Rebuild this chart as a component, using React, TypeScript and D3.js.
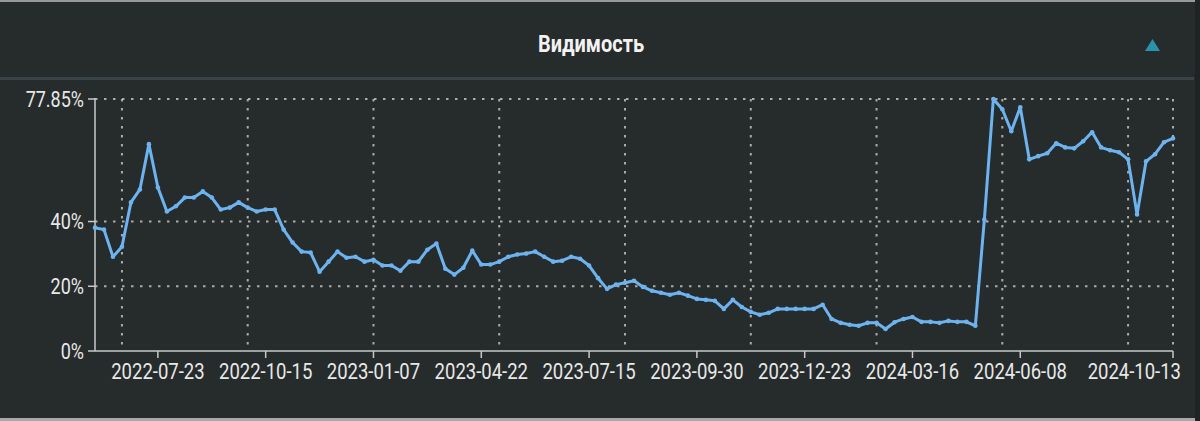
import React from "react";
import * as d3 from "d3";

const title = "Видимость";

const dates: string[] = [
  "2022-06-04","2022-06-11","2022-06-18","2022-06-25","2022-07-02","2022-07-09","2022-07-16","2022-07-23",
  "2022-07-30","2022-08-06","2022-08-13","2022-08-20","2022-08-27","2022-09-03","2022-09-10","2022-09-17",
  "2022-09-24","2022-10-01","2022-10-08","2022-10-15","2022-10-22","2022-10-29","2022-11-05","2022-11-12",
  "2022-11-19","2022-11-26","2022-12-03","2022-12-10","2022-12-17","2022-12-24","2022-12-31","2023-01-07",
  "2023-01-14","2023-01-21","2023-01-28","2023-02-04","2023-02-11","2023-02-18","2023-02-25","2023-03-04",
  "2023-03-11","2023-04-08","2023-04-15","2023-04-22","2023-04-29","2023-05-06","2023-05-13","2023-05-20",
  "2023-05-27","2023-06-03","2023-06-10","2023-06-17","2023-06-24","2023-07-01","2023-07-08","2023-07-15",
  "2023-07-22","2023-07-29","2023-08-05","2023-08-12","2023-08-19","2023-08-26","2023-09-02","2023-09-09",
  "2023-09-16","2023-09-23","2023-09-27","2023-09-30","2023-10-07","2023-10-14","2023-10-21","2023-10-28",
  "2023-11-04","2023-11-11","2023-11-18","2023-11-25","2023-12-02","2023-12-09","2023-12-16","2023-12-23",
  "2023-12-30","2024-01-06","2024-01-13","2024-01-20","2024-01-27","2024-02-03","2024-02-10","2024-02-17",
  "2024-02-24","2024-03-02","2024-03-09","2024-03-16","2024-03-23","2024-03-30","2024-04-06","2024-04-13",
  "2024-04-20","2024-04-27","2024-05-04","2024-05-11","2024-05-18","2024-05-25","2024-06-01","2024-06-08",
  "2024-06-15","2024-06-22","2024-06-29","2024-07-06","2024-07-13","2024-07-20","2024-07-27","2024-08-03",
  "2024-08-10","2024-08-17","2024-08-24","2024-08-31","2024-09-07","2024-09-14","2024-09-21","2024-10-05",
  "2024-10-13",
];

const visibility: number[] = [
  38.1, 37.5, 29.1, 32.2, 45.9, 49.9, 63.9, 50.5,
  43.1, 44.7, 47.4, 47.4, 49.3, 47.4, 43.7, 44.3,
  45.9, 44.3, 43.1, 43.7, 43.7, 37.5, 33.5, 30.7,
  30.4, 24.5, 27.6, 30.7, 28.8, 29.1, 27.6, 28.2,
  26.4, 26.4, 24.8, 27.6, 27.6, 31.3, 33.2, 25.4,
  23.6, 25.7, 31.0, 26.7, 26.7, 27.6, 29.1, 29.8,
  30.1, 30.7, 29.1, 27.6, 27.9, 29.1, 28.5, 26.4,
  22.5, 19.2, 20.5, 21.1, 21.7, 19.8, 18.6, 18.0,
  17.4, 18.0, 17.1, 16.1, 15.8, 15.5, 13.0, 15.8,
  13.6, 12.1, 11.2, 11.8, 13.0, 13.0, 13.0, 13.0,
  13.0, 14.3, 9.9, 8.7, 8.1, 7.8, 8.7, 8.7,
  6.8, 8.9, 9.9, 10.5, 9.0, 9.0, 8.7, 9.3,
  9.0, 9.0, 7.8, 40.6, 77.85, 74.7, 67.9, 75.3,
  59.2, 60.2, 61.1, 64.2, 62.9, 62.6, 64.8, 67.6,
  62.9, 62.0, 61.4, 59.2, 42.2, 58.6, 60.8, 64.5,
  65.7,
];

const xTickLabels: string[] = [
  "2022-07-23","2022-10-15","2023-01-07","2023-04-22","2023-07-15",
  "2023-09-30","2023-12-23","2024-03-16","2024-06-08","2024-10-13",
];

const yTickValues: number[] = [0, 20, 40, 77.85];

const W = 1200;
const H = 421;
const M = { left: 95, right: 1173, top: 99, bottom: 351 };

export default function App() {
  const x = d3.scalePoint<string>().domain(dates).range([M.left, M.right]);
  const yMax = d3.max(visibility) as number;
  const y = d3.scaleLinear().domain([0, yMax]).range([M.bottom, M.top]);

  const line = d3
    .line<number>()
    .x((_, i) => x(dates[i]) as number)
    .y((d) => y(d))
    .curve(d3.curveLinear);

  const gridIdx = d3.range(3, dates.length - 1, 14);
  const gridColor = "rgba(215,215,215,0.75)";
  const axisColor = "#c8c8c8";
  const textColor = "#e8e8e8";
  const lineColor = "#6db3ef";
  const font = "Roboto, 'Noto Sans', sans-serif";
  const sy = 1.18;

  const fmtY = (v: number) => (v === yMax ? `${v.toFixed(2)}%` : `${v}%`);

  const label = (
    key: string,
    tx: number,
    ty: number,
    anchor: string,
    txt: string,
    size: number,
    weight = "normal",
    fill = textColor
  ) => (
    <g key={key} transform={`translate(${tx},${ty}) scale(1,${sy})`}>
      <text
        x={0}
        y={0}
        textAnchor={anchor as any}
        fill={fill}
        fontFamily={font}
        fontWeight={weight}
        fontSize={size}
      >
        {txt}
      </text>
    </g>
  );

  return (
    <div style={{ position: "absolute", left: 0, top: 0, width: W, height: H }}>
      <svg width={W} height={H} style={{ display: "block" }}>
        <rect x={0} y={0} width={W} height={H} fill="#262b2c" />
        <rect x={0} y={0} width={W} height={2} fill="#9a9a9a" />
        <rect x={0} y={H - 3} width={W} height={3} fill="#a9a9a9" />
        <rect x={1195} y={0} width={5} height={H} fill="#1f2324" />
        <rect x={0} y={77} width={1194} height={3} fill="#3a4446" />

        {label("title", 591, 52, "middle", title, 20, "bold", "#f2f2f2")}
        <path d="M1145,51 L1152.5,39 L1160,51 Z" fill="#2a93ab" />

        {/* horizontal grid */}
        {yTickValues
          .filter((v) => v > 0)
          .map((v) => (
            <line
              key={"hg" + v}
              x1={M.left}
              x2={M.right}
              y1={y(v)}
              y2={y(v)}
              stroke={gridColor}
              strokeWidth={2}
              strokeDasharray="2.5 6.5"
            />
          ))}
        {/* vertical grid */}
        {[...gridIdx, dates.length - 1].map((i) => (
          <line
            key={"vg" + i}
            x1={x(dates[i])}
            x2={x(dates[i])}
            y1={M.top}
            y2={M.bottom}
            stroke={gridColor}
            strokeWidth={2}
            strokeDasharray="2.5 6.5"
          />
        ))}

        {/* y axis */}
        <line x1={M.left} x2={M.left} y1={M.top - 1} y2={M.bottom} stroke={axisColor} strokeWidth={1.5} />
        {yTickValues.map((v) => (
          <g key={"yt" + v}>
            <line x1={M.left - 7} x2={M.left} y1={y(v)} y2={y(v)} stroke={axisColor} strokeWidth={1.5} />
            {label("yl" + v, M.left - 11, y(v) + 7.5, "end", fmtY(v), 18)}
          </g>
        ))}

        {/* x axis */}
        <line x1={M.left} x2={M.right} y1={M.bottom} y2={M.bottom} stroke={axisColor} strokeWidth={1.5} />
        {xTickLabels.map((d, k) => {
          const px = x(d) as number;
          const last = k === xTickLabels.length - 1;
          return (
            <g key={"xt" + d}>
              <line x1={px} x2={px} y1={M.bottom} y2={M.bottom + 7} stroke={axisColor} strokeWidth={1.5} />
              {label("xl" + d, last ? 1181 : px, 379, last ? "end" : "middle", d, 18.5)}
            </g>
          );
        })}

        {/* series */}
        <path d={line(visibility) || ""} fill="none" stroke={lineColor} strokeWidth={3} strokeLinejoin="round" />
        {visibility.map((v, i) => (
          <circle key={"p" + i} cx={x(dates[i])} cy={y(v)} r={2.3} fill={lineColor} />
        ))}
      </svg>
    </div>
  );
}
